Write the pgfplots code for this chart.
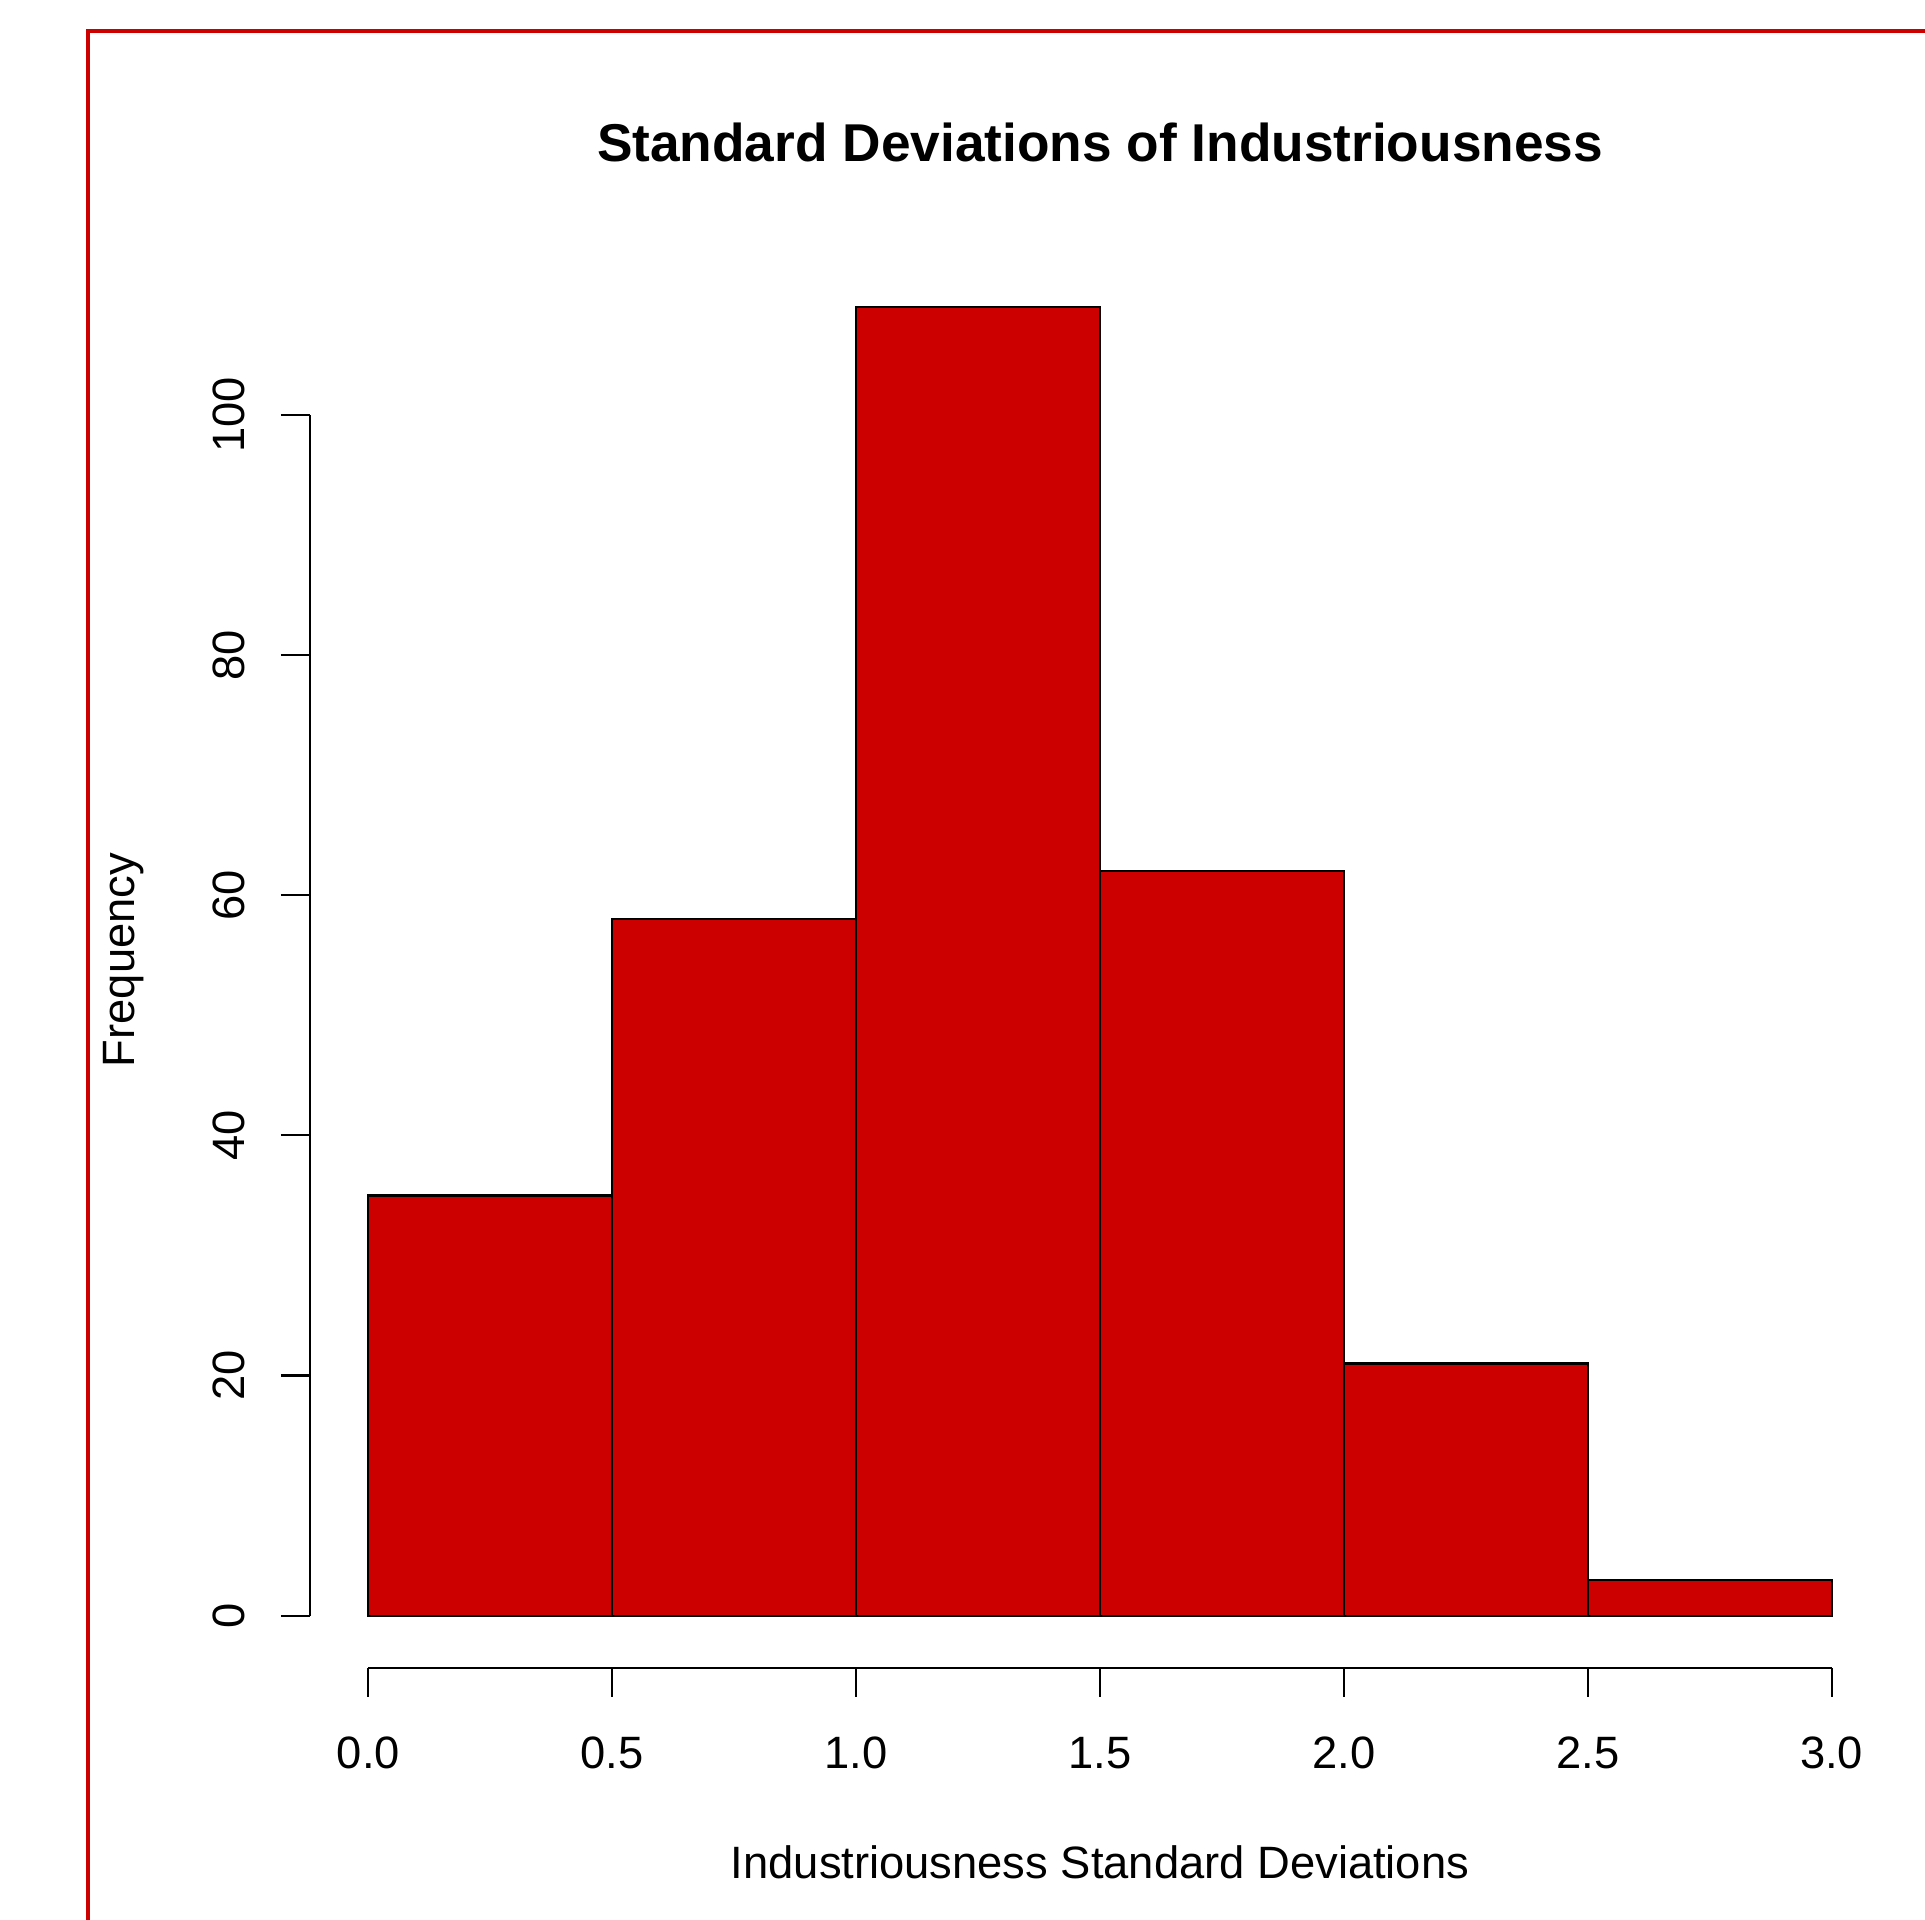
\documentclass[border=0pt]{standalone}
\usepackage{fontspec}
\setmainfont{Liberation Sans}
\usepackage{pgfplots}
\pgfplotsset{compat=1.18}
\definecolor{histRed}{RGB}{205,0,0}
\newcommand{\rfont}{\fontsize{12.9}{15}\selectfont}
\begin{document}
\begin{tikzpicture}
\useasboundingbox (0,0) rectangle (192.5mm,192mm);
% outer red frame (only left and top edges visible)
\draw[histRed, line width=0.4mm] (8.8mm,-1mm) -- (8.8mm,188.9mm) -- (194mm,188.9mm);
\begin{axis}[
  at={(30.98mm,25.2mm)}, anchor=south west,
  scale only axis, width=158.04mm, height=141.34mm,
  xmin=-0.12, xmax=3.12, ymin=-4.36, ymax=113.36,
  clip=false,
  axis line style={draw=none},
  tick align=outside, major tick length=2.9mm,
  tick style={black, line width=0.22mm},
  xtick pos=left, ytick pos=left,
  xtick={0,0.5,1,1.5,2,2.5,3},
  xticklabels={0.0,0.5,1.0,1.5,2.0,2.5,3.0},
  ytick={0,20,40,60,80,100},
  yticklabels={0,20,40,60,80,100},
  tick label style={font=\rfont},
  xticklabel style={anchor=center, yshift=-5.6mm},
  yticklabel style={anchor=center, xshift=-5.2mm, rotate=90},
]
\addplot[ybar interval, fill=histRed, draw=black, line width=0.22mm]
  coordinates {(0,35) (0.5,58) (1,109) (1.5,62) (2,21) (2.5,3) (3,3)};
\draw[line width=0.22mm] (axis cs:0,-4.36) -- (axis cs:3,-4.36);
\draw[line width=0.22mm] (axis cs:-0.12,0) -- (axis cs:-0.12,100);
\end{axis}
\node[font=\fontsize{15.15}{18}\selectfont\bfseries, anchor=center] at (110mm,177.8mm) {Standard Deviations of Industriousness};
\node[font=\rfont, anchor=center] at (110mm,5.8mm) {Industriousness Standard Deviations};
\node[font=\rfont, anchor=center, rotate=90] at (12.4mm,96mm) {Frequency};
\end{tikzpicture}
\end{document}
